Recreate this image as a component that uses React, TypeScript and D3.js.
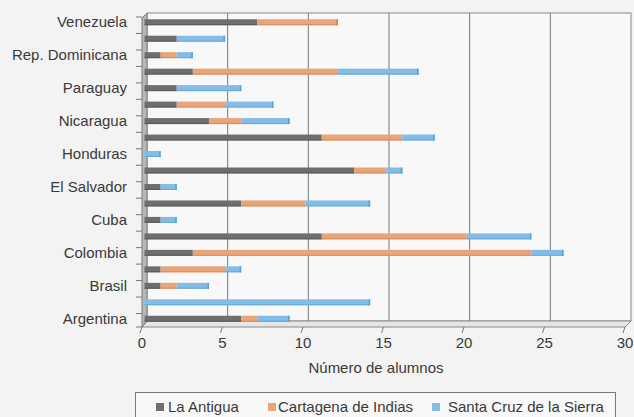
import React from "react";
import * as d3 from "d3";

const categories = [
  "Argentina", "Bolivia", "Brasil", "Chile", "Colombia", "Costa Rica", "Cuba",
  "Ecuador", "El Salvador", "Guatemala", "Honduras", "México", "Nicaragua",
  "Panamá", "Paraguay", "Perú", "Rep. Dominicana", "Uruguay", "Venezuela",
];
const labeledCategories = [
  "Argentina", "Brasil", "Colombia", "Cuba", "El Salvador", "Honduras",
  "Nicaragua", "Paraguay", "Rep. Dominicana", "Venezuela",
];
const laAntigua = [6, 0, 1, 1, 3, 11, 1, 6, 1, 13, 0, 11, 4, 2, 2, 3, 1, 2, 7];
const cartagena = [1, 0, 1, 4, 21, 9, 0, 4, 0, 2, 0, 5, 2, 3, 0, 9, 1, 0, 5];
const santaCruz = [2, 14, 2, 1, 2, 4, 1, 4, 1, 1, 1, 2, 3, 3, 4, 5, 1, 3, 0];
const seriesNames = ["La Antigua", "Cartagena de Indias", "Santa Cruz de la Sierra"];
const xTicks = [0, 5, 10, 15, 20, 25, 30];
const xTitle = "Número de alumnos";

const colors = ["#6e6e6e", "#e9a478", "#82bde8"];
const darker = ["#4e4e4e", "#c98458", "#5f9fce"];

export default function App() {
  const W = 634, H = 417;
  const rows = categories.map((c, i) => ({
    cat: c,
    [seriesNames[0]]: laAntigua[i],
    [seriesNames[1]]: cartagena[i],
    [seriesNames[2]]: santaCruz[i],
  }));
  const stacked = d3.stack<any>().keys(seriesNames)(rows);

  const xBack = d3.scaleLinear().domain([0, 30]).range([147, 631]);
  const xFront = d3.scaleLinear().domain([0, 30]).range([142, 625]);
  const xBar = d3.scaleLinear().domain([0, 30]).range([144.5, 628]);
  const y = d3
    .scaleBand<string>()
    .domain([...categories].reverse())
    .range([14, 327])
    .paddingInner(0)
    .paddingOuter(0);
  const bw = y.bandwidth();
  const barH = 6;

  const wallTop = 13, wallBottom = 321, frontBottom = 327;
  const fontFam = "Liberation Sans, Arial, sans-serif";

  return (
    <svg
      width={W}
      height={H}
      style={{ position: "absolute", left: 0, top: 0 }}
      fontFamily={fontFam}
    >
      <rect x={0} y={0} width={W} height={H} fill="#f3f3f3" />
      <rect
        x={xBack(0)}
        y={wallTop}
        width={xBack(30) - xBack(0)}
        height={wallBottom - wallTop}
        fill="#f8f8f8"
        stroke="#8a8a8a"
        strokeWidth={1}
      />
      {xTicks.slice(1, -1).map((t) => (
        <line
          key={"g" + t}
          x1={xBack(t)}
          x2={xBack(t)}
          y1={wallTop}
          y2={wallBottom}
          stroke="#7a7a7a"
          strokeWidth={1}
        />
      ))}
      {xTicks.map((t) => (
        <line
          key={"gf" + t}
          x1={xBack(t)}
          y1={wallBottom}
          x2={xFront(t)}
          y2={frontBottom}
          stroke="#8a8a8a"
          strokeWidth={1}
        />
      ))}
      <polygon
        points={`${xBack(0)},${wallBottom} ${xBack(30)},${wallBottom} ${xFront(30)},${frontBottom} ${xFront(0)},${frontBottom}`}
        fill="#e6e6e6"
        stroke="#8a8a8a"
        strokeWidth={1}
      />
      <polygon
        points={`${xBack(0)},${wallTop} ${xFront(0)},${wallTop + 5} ${xFront(0)},${frontBottom} ${xBack(0)},${wallBottom}`}
        fill="#b8b8b8"
        stroke="#7a7a7a"
        strokeWidth={1}
      />
      {d3.range(categories.length + 1).map((i) => {
        const yy = 14 + i * bw + 3;
        return (
          <line
            key={"lt" + i}
            x1={xFront(0) - 6}
            x2={xFront(0)}
            y1={Math.min(yy, frontBottom)}
            y2={Math.min(yy, frontBottom)}
            stroke="#777"
            strokeWidth={1}
          />
        );
      })}
      {stacked.map((s, si) => (
        <g key={s.key}>
          {s.map((d, i) => {
            if (d[1] - d[0] <= 0) return null;
            const cy = (y(categories[i]) as number) + bw / 2;
            const x0 = xBar(d[0]);
            const x1 = xBar(d[1]);
            return (
              <g key={i}>
                <rect x={x0} y={cy - barH / 2} width={x1 - x0} height={barH} fill={colors[si]} />
                <rect x={x0} y={cy + barH / 2 - 1.2} width={x1 - x0} height={1.2} fill={darker[si]} opacity={0.6} />
              </g>
            );
          })}
        </g>
      ))}
      {categories.map((c, i) => {
        const tot = laAntigua[i] + cartagena[i] + santaCruz[i];
        const last = santaCruz[i] > 0 ? 2 : cartagena[i] > 0 ? 1 : 0;
        const cy = (y(c) as number) + bw / 2;
        return (
          <rect
            key={"cap" + c}
            x={xBar(tot) - 1.5}
            y={cy - barH / 2}
            width={1.5}
            height={barH}
            fill={darker[last]}
          />
        );
      })}
      {labeledCategories.map((c) => (
        <text
          key={"lab" + c}
          x={127}
          y={(y(c) as number) + bw / 2}
          dy="0.35em"
          textAnchor="end"
          fontSize={15}
          fill="#3a3a3a"
        >
          {c}
        </text>
      ))}
      {xTicks.map((t) => (
        <g key={"xt" + t}>
          <line
            x1={xFront(t)}
            y1={frontBottom}
            x2={xFront(t) - 2}
            y2={frontBottom + 6}
            stroke="#777"
            strokeWidth={1}
          />
          <text
            x={xFront(t)}
            y={348}
            textAnchor="middle"
            fontSize={15}
            fill="#3a3a3a"
          >
            {t}
          </text>
        </g>
      ))}
      <text x={376} y={373} textAnchor="middle" fontSize={15} fill="#3a3a3a">
        {xTitle}
      </text>
      <rect x={135.5} y={392.5} width={480} height={40} fill="#f8f8f8" stroke="#7a7a7a" strokeWidth={1} />
      {[
        { sq: 156, tx: 168 },
        { sq: 268, tx: 278 },
        { sq: 432, tx: 448 },
      ].map((p, i) => (
        <g key={"leg" + i}>
          <rect x={p.sq} y={403} width={8} height={8} fill={colors[i]} />
          <text x={p.tx} y={412} fontSize={15} fill="#3a3a3a">
            {seriesNames[i]}
          </text>
        </g>
      ))}
    </svg>
  );
}
